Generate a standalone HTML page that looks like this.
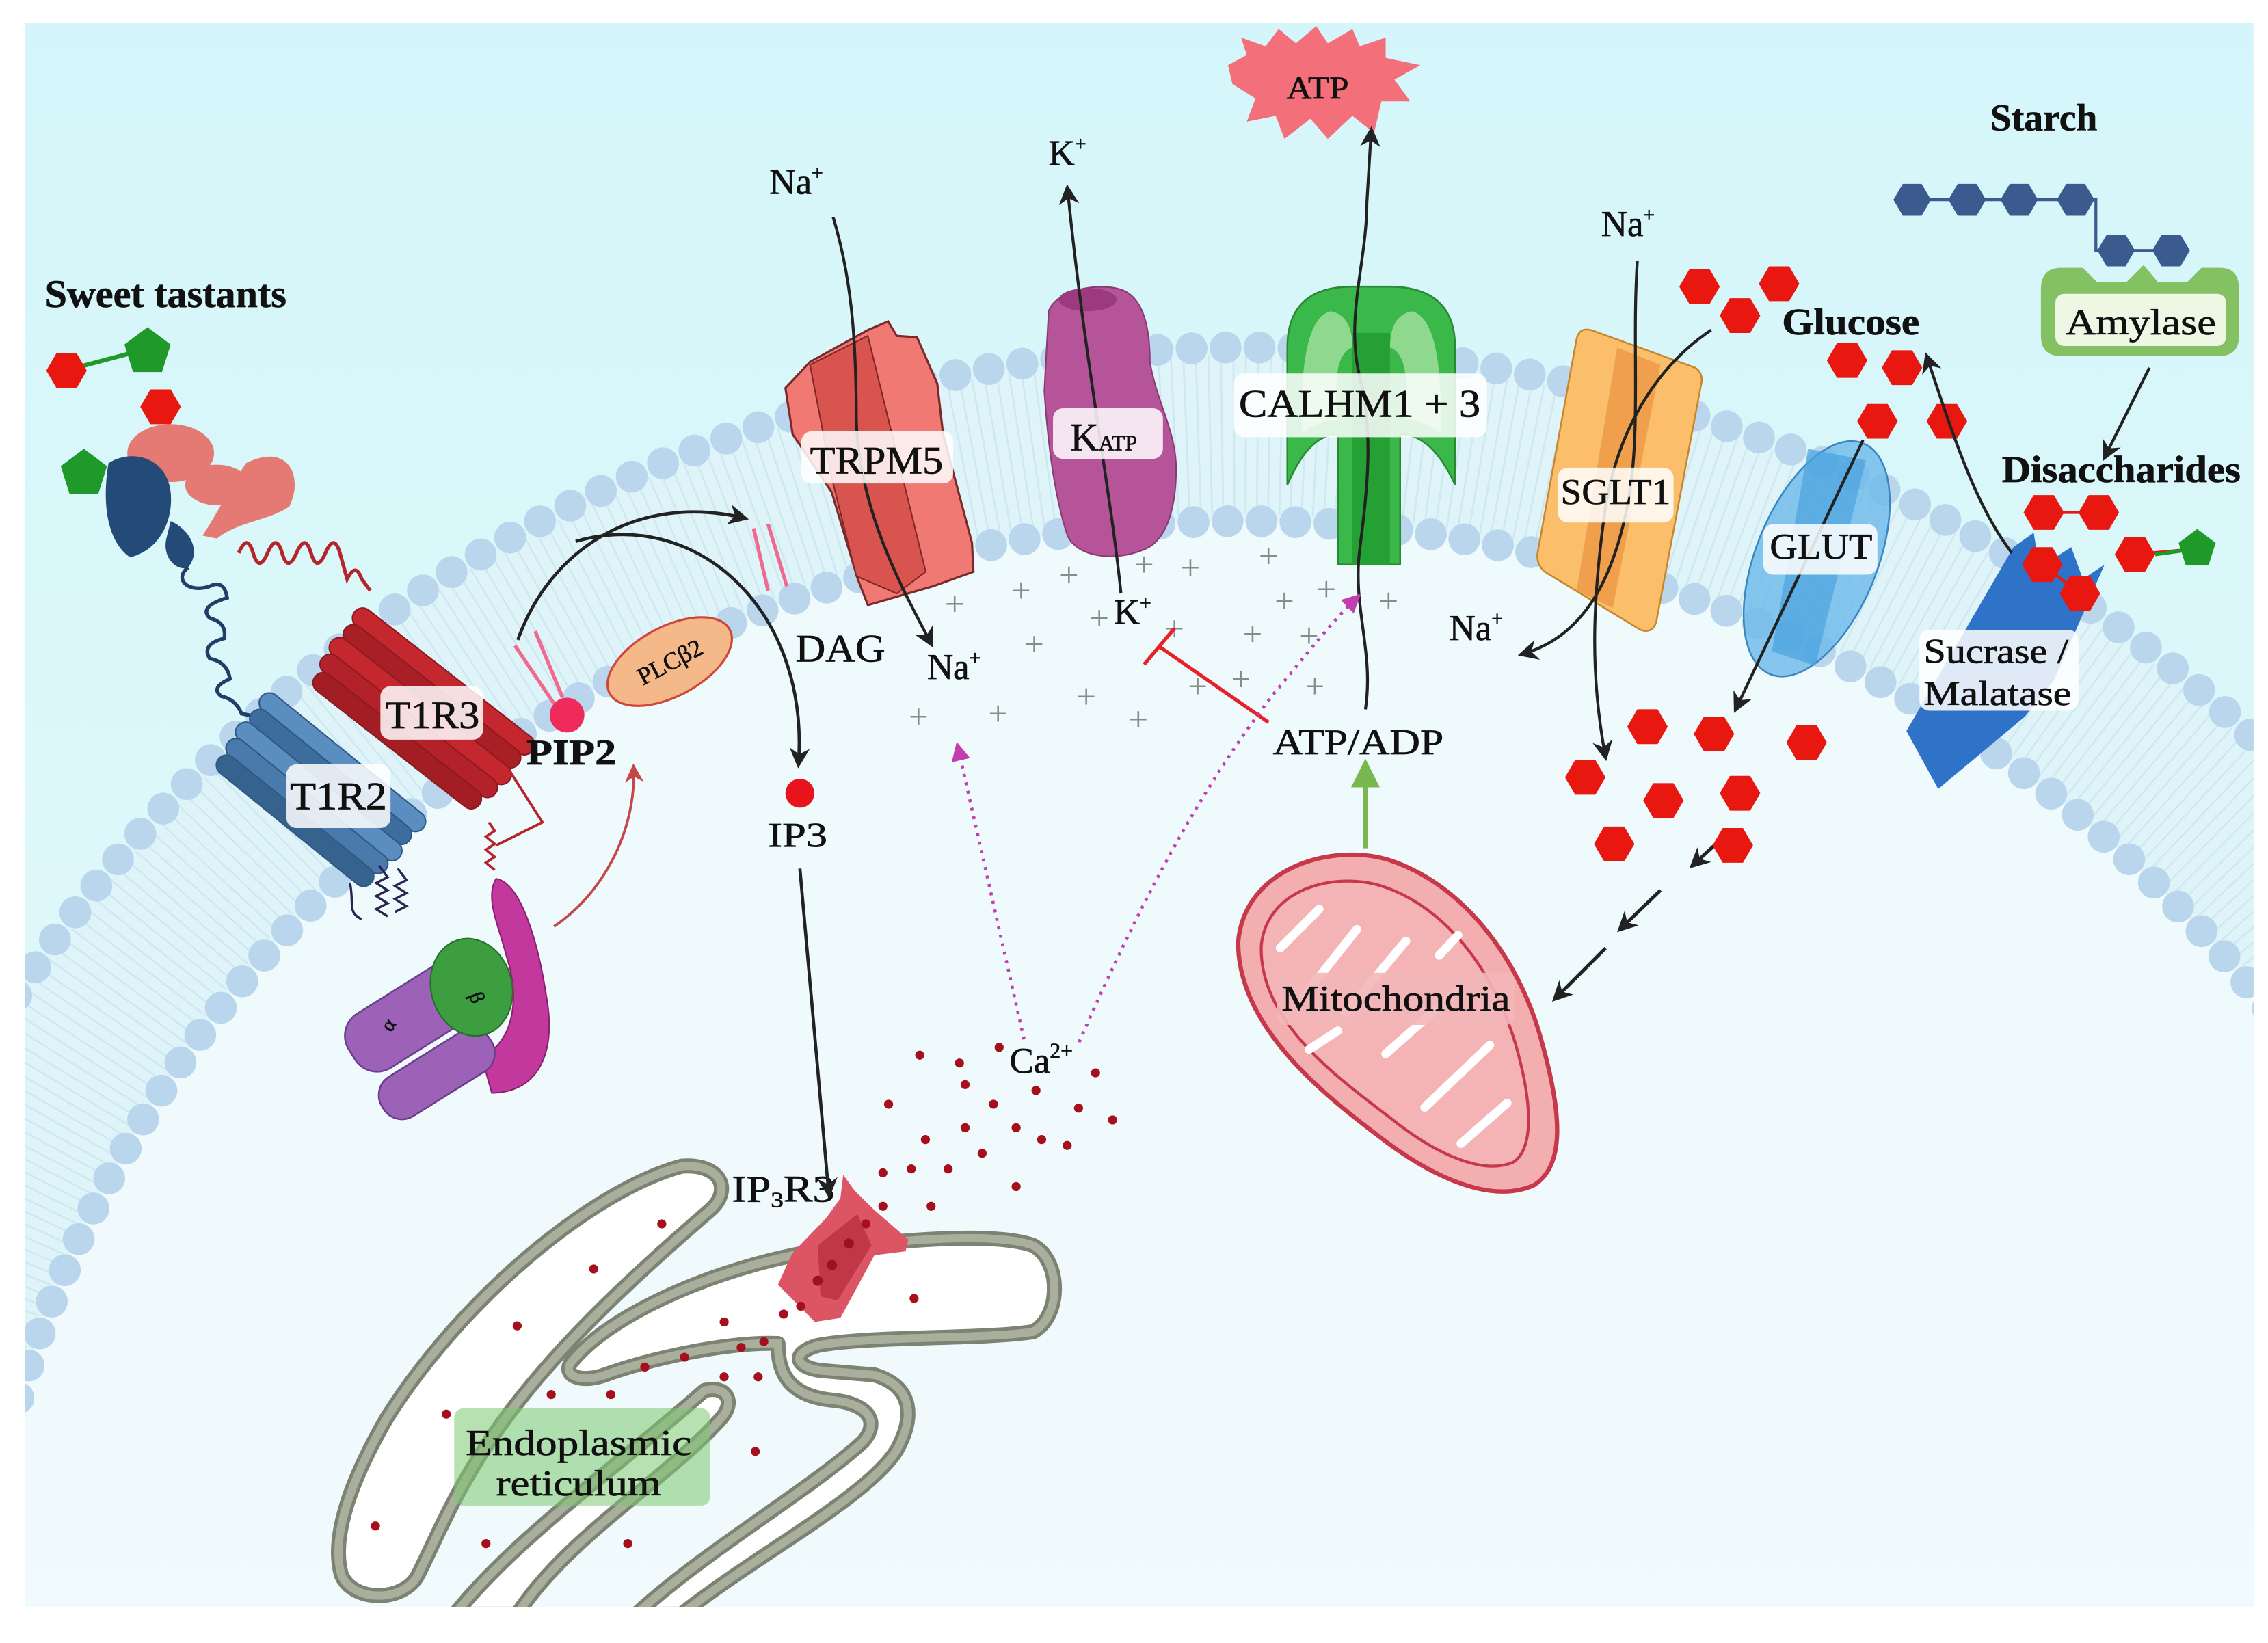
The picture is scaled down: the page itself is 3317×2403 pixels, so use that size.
<!DOCTYPE html>
<html><head><meta charset="utf-8"><style>
html,body{margin:0;padding:0;background:#fff;overflow:hidden;width:3317px;height:2403px;}
svg{display:block;}
text{font-family:"Liberation Serif",serif;fill:#111;stroke:#111;stroke-width:0.35;}
</style></head><body>
<svg width="3317" height="2403" viewBox="0 0 1568 1135" preserveAspectRatio="none" xmlns="http://www.w3.org/2000/svg">
<defs>
<clipPath id="cp"><rect x="17" y="16" width="1541" height="1094"/></clipPath>
<linearGradient id="bg" x1="0" y1="0" x2="0" y2="1"><stop offset="0" stop-color="#d4f6fa"/><stop offset="1" stop-color="#e6f9fb"/></linearGradient>
<linearGradient id="in" x1="0" y1="0" x2="0" y2="1"><stop offset="0" stop-color="#eefafc"/><stop offset="1" stop-color="#f4fbfd"/></linearGradient>
<marker id="ah" viewBox="0 0 10 10" refX="8" refY="5" markerWidth="14" markerHeight="14" markerUnits="userSpaceOnUse" orient="auto"><path d="M0,0 L10,5 L0,10 L3,5 Z" fill="#222"/></marker>
<marker id="ahm" viewBox="0 0 10 10" refX="8" refY="5" markerWidth="13" markerHeight="13" markerUnits="userSpaceOnUse" orient="auto"><path d="M0,0 L10,5 L0,10 Z" fill="#c13db0"/></marker>
<marker id="ahr" viewBox="0 0 10 10" refX="8" refY="5" markerWidth="13" markerHeight="13" markerUnits="userSpaceOnUse" orient="auto"><path d="M0,0 L10,5 L0,10 L3,5 Z" fill="#c4474a"/></marker>
<marker id="ahg" viewBox="0 0 10 10" refX="8" refY="5" markerWidth="20" markerHeight="20" markerUnits="userSpaceOnUse" orient="auto"><path d="M0,0 L10,5 L0,10 Z" fill="#79b84e"/></marker>
<polygon id="hx" points="-14,0 -7,-12 7,-12 14,0 7,12 -7,12" fill="#e8170f"/>
<polygon id="hb" points="-13,0 -6.5,-11 6.5,-11 13,0 6.5,11 -6.5,11" fill="#3b5b8f"/>
<polygon id="pt" points="0,-17 16,-5 10,14 -10,14 -16,-5" fill="#1f9a2a"/>
</defs>
<rect width="1568" height="1135" fill="#fff"/>
<g clip-path="url(#cp)">
<rect x="0" y="0" width="1568" height="1135" fill="url(#bg)"/>
<!-- membrane -->
<ellipse cx="860" cy="1190" rx="1000" ry="950" fill="#dff4f8"/>
<ellipse cx="860" cy="1190" rx="940" ry="890" fill="none" stroke="#c9e4ee" stroke-width="110" stroke-dasharray="1.2 7" opacity="0.8"/>
<ellipse cx="860" cy="1190" rx="880" ry="830" fill="url(#in)"/>
<ellipse cx="860" cy="1190" rx="1000" ry="950" fill="none" stroke="#b9d6ec" stroke-width="22" stroke-linecap="round" stroke-dasharray="0 23.5"/>
<ellipse cx="860" cy="1190" rx="880" ry="830" fill="none" stroke="#b9d6ec" stroke-width="22" stroke-linecap="round" stroke-dasharray="0 23.5"/>

<!-- ER -->
<g transform="translate(189,708.6) scale(0.392,0.271)">
<g fill="#fff" stroke="#7d8373" stroke-width="22" stroke-linejoin="round">
<path vector-effect="non-scaling-stroke" d="M720,358 C 560,420 330,700 200,1000 C 140,1150 100,1300 120,1400 C 140,1470 230,1470 255,1400 C 290,1300 330,1150 420,980 C 520,790 650,620 770,470 C 810,420 790,350 720,358 Z"/>
<path vector-effect="non-scaling-stroke" d="M760,930 C 800,915 815,960 790,1000 C 700,1150 520,1300 430,1500 L 320,1500 C 430,1300 620,1110 760,930 Z"/>
<path vector-effect="non-scaling-stroke" d="M530,850 C 600,730 800,600 1000,565 C 1150,540 1280,530 1340,560 C 1390,600 1390,740 1340,780 C 1250,800 1050,790 960,815 C 910,835 920,875 975,880 L 1060,890 C 1130,920 1130,1000 1100,1080 C 1050,1200 850,1350 720,1500 L 640,1500 C 760,1340 950,1180 1040,1060 C 1070,1010 1050,965 990,955 C 900,945 890,870 890,810 C 800,805 660,850 585,890 C 535,915 505,885 530,850 Z"/>
</g>
<g fill="none" stroke="#a9ae9d" stroke-width="12">
<path vector-effect="non-scaling-stroke" d="M720,358 C 560,420 330,700 200,1000 C 140,1150 100,1300 120,1400 C 140,1470 230,1470 255,1400 C 290,1300 330,1150 420,980 C 520,790 650,620 770,470 C 810,420 790,350 720,358 Z"/>
<path vector-effect="non-scaling-stroke" d="M760,930 C 800,915 815,960 790,1000 C 700,1150 520,1300 430,1500 L 320,1500 C 430,1300 620,1110 760,930 Z"/>
<path vector-effect="non-scaling-stroke" d="M530,850 C 600,730 800,600 1000,565 C 1150,540 1280,530 1340,560 C 1390,600 1390,740 1340,780 C 1250,800 1050,790 960,815 C 910,835 920,875 975,880 L 1060,890 C 1130,920 1130,1000 1100,1080 C 1050,1200 850,1350 720,1500 L 640,1500 C 760,1340 950,1180 1040,1060 C 1070,1010 1050,965 990,955 C 900,945 890,870 890,810 C 800,805 660,850 585,890 C 535,915 505,885 530,850 Z"/>
</g>
<polygon points="1005,380 1025,420 1060,470 1120,545 1115,575 1060,585 1000,745 955,755 890,660 915,580 975,490 1000,440" fill="#dc5564"/>
<polygon points="960,560 1030,480 1055,560 995,700 965,690" fill="#c23747"/>
<g fill="#a0101e">
<ellipse cx="1015" cy="555" rx="9" ry="13"/><ellipse cx="985" cy="610" rx="9" ry="13"/><ellipse cx="960" cy="650" rx="9" ry="13"/>
</g>
<g fill="#a5101c">
<ellipse cx="1140" cy="75" rx="8" ry="11.5"/><ellipse cx="1210" cy="95" rx="8" ry="11.5"/><ellipse cx="1280" cy="55" rx="8" ry="11.5"/><ellipse cx="1450" cy="120" rx="8" ry="11.5"/>
<ellipse cx="1085" cy="200" rx="8" ry="11.5"/><ellipse cx="1220" cy="150" rx="8" ry="11.5"/><ellipse cx="1345" cy="165" rx="8" ry="11.5"/><ellipse cx="1270" cy="200" rx="8" ry="11.5"/>
<ellipse cx="1420" cy="210" rx="8" ry="11.5"/><ellipse cx="1480" cy="240" rx="8" ry="11.5"/><ellipse cx="1220" cy="260" rx="8" ry="11.5"/><ellipse cx="1310" cy="260" rx="8" ry="11.5"/>
<ellipse cx="1150" cy="290" rx="8" ry="11.5"/><ellipse cx="1355" cy="290" rx="8" ry="11.5"/><ellipse cx="1250" cy="325" rx="8" ry="11.5"/><ellipse cx="1400" cy="305" rx="8" ry="11.5"/>
<ellipse cx="1075" cy="375" rx="8" ry="11.5"/><ellipse cx="1125" cy="365" rx="8" ry="11.5"/><ellipse cx="1190" cy="365" rx="8" ry="11.5"/><ellipse cx="1310" cy="410" rx="8" ry="11.5"/>
<ellipse cx="1075" cy="460" rx="8" ry="11.5"/><ellipse cx="1160" cy="460" rx="8" ry="11.5"/><ellipse cx="1045" cy="505" rx="8" ry="11.5"/><ellipse cx="685" cy="505" rx="8" ry="11.5"/>
<ellipse cx="565" cy="620" rx="8" ry="11.5"/><ellipse cx="1130" cy="695" rx="8" ry="11.5"/><ellipse cx="430" cy="765" rx="8" ry="11.5"/><ellipse cx="795" cy="755" rx="8" ry="11.5"/>
<ellipse cx="900" cy="735" rx="8" ry="11.5"/><ellipse cx="930" cy="715" rx="8" ry="11.5"/><ellipse cx="825" cy="820" rx="8" ry="11.5"/><ellipse cx="865" cy="805" rx="8" ry="11.5"/>
<ellipse cx="725" cy="845" rx="8" ry="11.5"/><ellipse cx="655" cy="870" rx="8" ry="11.5"/><ellipse cx="795" cy="895" rx="8" ry="11.5"/><ellipse cx="855" cy="895" rx="8" ry="11.5"/>
<ellipse cx="490" cy="940" rx="8" ry="11.5"/><ellipse cx="595" cy="940" rx="8" ry="11.5"/><ellipse cx="305" cy="990" rx="8" ry="11.5"/><ellipse cx="850" cy="1085" rx="8" ry="11.5"/>
<ellipse cx="180" cy="1275" rx="8" ry="11.5"/><ellipse cx="375" cy="1320" rx="8" ry="11.5"/><ellipse cx="625" cy="1320" rx="8" ry="11.5"/>
</g>
</g>
<rect x="314" y="973" width="177" height="67" rx="6" fill="#7cc870" opacity="0.55"/>
<text x="400" y="1005" font-size="25" text-anchor="middle" textLength="156" lengthAdjust="spacingAndGlyphs">Endoplasmic</text>
<text x="400" y="1033" font-size="25" text-anchor="middle" textLength="114" lengthAdjust="spacingAndGlyphs">reticulum</text>
<text x="506" y="830" font-size="26" textLength="71" lengthAdjust="spacingAndGlyphs">IP<tspan font-size="15" dy="4">3</tspan><tspan dy="-4">R3</tspan></text>
<text x="698" y="741" font-size="25">Ca<tspan font-size="15" dy="-10">2+</tspan></text>

<!-- sweet tastants / receptor -->
<text x="31" y="212" font-size="27" font-weight="bold" textLength="167" lengthAdjust="spacingAndGlyphs">Sweet tastants</text>
<line x1="45" y1="256" x2="98" y2="242" stroke="#1f9a2a" stroke-width="3"/>
<use href="#hx" x="46" y="256"/>
<use href="#pt" x="102" y="243"/>
<path d="M140,370 C150,355 160,335 170,320 C 200,305 210,330 200,350 C 185,360 165,360 150,372 Z" fill="#e47a73"/>
<ellipse cx="118" cy="313" rx="30" ry="20" fill="#e47a73"/>
<ellipse cx="150" cy="335" rx="22" ry="14" fill="#e47a73"/>
<use href="#hx" x="111" y="281"/>
<path d="M75,320 C 90,310 115,315 118,340 C 120,360 110,380 90,385 C 75,375 70,350 75,320 Z" fill="#244b78"/>
<path d="M118,360 C 130,365 140,380 130,392 C 122,395 112,385 115,372 Z" fill="#244b78"/>
<use href="#pt" x="58" y="327"/>
<path d="M165,382 q6,-14 10,0 q4,14 10,0 q6,-14 10,0 q4,14 10,0 q6,-14 10,0 q4,14 10,0 q6,-14 10,0 l5,18 q6,-12 10,0 l6,8" fill="none" stroke="#b5262c" stroke-width="2.5"/>
<path d="M130,392 C 120,400 130,410 145,405 q 10,-5 12,8 q-20,6 -12,14 q 12,3 10,14 q-16,4 -10,14 q12,2 14,14 q-14,6 -6,12 q10,2 14,12 l 20,4" fill="none" stroke="#1f3e68" stroke-width="2.5"/>
<g transform="translate(221,546) rotate(39)">
<rect x="-72" y="-32" width="144" height="14" rx="7" fill="#5b8ec0" stroke="#2f5886" stroke-width="1"/>
<rect x="-70" y="-19" width="140" height="14" rx="7" fill="#3d6d9c" stroke="#2f5886" stroke-width="1"/>
<rect x="-72" y="-6" width="144" height="14" rx="7" fill="#5b8ec0" stroke="#2f5886" stroke-width="1"/>
<rect x="-70" y="7" width="140" height="14" rx="7" fill="#4a7aab" stroke="#2f5886" stroke-width="1"/>
<rect x="-68" y="20" width="136" height="14" rx="7" fill="#36628e" stroke="#2f5886" stroke-width="1"/>
</g>
<g transform="translate(290,492) rotate(38)">
<rect x="-78" y="-34" width="156" height="14" rx="7" fill="#c5272f" stroke="#8c1a20" stroke-width="1"/>
<rect x="-76" y="-21" width="152" height="14" rx="7" fill="#a91f26" stroke="#8c1a20" stroke-width="1"/>
<rect x="-78" y="-8" width="156" height="14" rx="7" fill="#c5272f" stroke="#8c1a20" stroke-width="1"/>
<rect x="-76" y="5" width="152" height="14" rx="7" fill="#b3222a" stroke="#8c1a20" stroke-width="1"/>
<rect x="-72" y="18" width="144" height="14" rx="7" fill="#a31d24" stroke="#8c1a20" stroke-width="1"/>
</g>
<path d="M352,532 L 375,568 L 343,584 M 338,568 l 4,6 -6,4 6,5 -6,4 6,5 -6,4 6,5" fill="none" stroke="#b5262c" stroke-width="1.8"/>
<path d="M242,610 C 245,625 240,630 250,635 M 262,598 l 6,8 -8,4 8,5 -8,4 8,5 -8,4 8,5 M 275,600 l 6,8 -8,4 8,5 -8,4 8,5 -8,4" fill="none" stroke="#2a2450" stroke-width="1.6"/>
<rect x="198" y="528" width="72" height="44" rx="7" fill="#fff" opacity="0.85"/>
<text x="234" y="559" font-size="27" text-anchor="middle" textLength="67" lengthAdjust="spacingAndGlyphs">T1R2</text>
<rect x="263" y="474" width="71" height="37" rx="7" fill="#fff" opacity="0.85"/>
<text x="299" y="503" font-size="27" text-anchor="middle" textLength="65" lengthAdjust="spacingAndGlyphs">T1R3</text>
<!-- G protein -->
<path d="M343,607 C 360,610 372,650 378,690 C 385,730 370,755 340,755 L 333,730 C 355,720 360,690 350,660 C 345,640 335,620 343,607 Z" fill="#c2389c" stroke="#8a2070" stroke-width="1"/>
<g transform="translate(284,703) rotate(-32)"><rect x="-48" y="-22" width="96" height="44" rx="18" fill="#9b62b8" stroke="#6b3d8a" stroke-width="1.2"/></g>
<g transform="translate(302,742) rotate(-32)"><rect x="-44" y="-16" width="88" height="32" rx="15" fill="#9b62b8" stroke="#6b3d8a" stroke-width="1.2"/></g>
<ellipse cx="326" cy="682" rx="28" ry="34" transform="rotate(-15 326 682)" fill="#3c9e3f" stroke="#286e2a" stroke-width="1"/>
<text x="328" y="690" font-size="14" fill="#205a22" transform="rotate(70 328 686)">β</text>
<text x="268" y="715" font-size="14" fill="#5a3175" transform="rotate(-60 268 712)">α</text>
<path d="M383,640 C 420,615 440,570 438,530" fill="none" stroke="#c4474a" stroke-width="1.8" marker-end="url(#ahr)"/>
<!-- PIP2 / PLC / DAG -->
<path d="M356,446 L383,486 M370,436 L389,482" stroke="#ef6a8e" stroke-width="2.5"/>
<circle cx="392" cy="494" r="12" fill="#ee2b5a"/>
<text x="364" y="528" font-size="25" font-weight="bold" textLength="62" lengthAdjust="spacingAndGlyphs">PIP2</text>
<ellipse cx="463" cy="457" rx="47" ry="24" transform="rotate(-28 463 457)" fill="#f5b888" stroke="#d0453a" stroke-width="1.5"/>
<text x="463" y="463" font-size="17" text-anchor="middle" transform="rotate(-28 463 457)">PLCβ2</text>
<path d="M358,442 C 380,380 440,340 515,358" fill="none" stroke="#222" stroke-width="2.2" marker-end="url(#ah)"/>
<path d="M398,374 C 480,350 560,420 552,528" fill="none" stroke="#222" stroke-width="2.2" marker-end="url(#ah)"/>
<path d="M521,365 L531,408 M531,362 L544,405" stroke="#ef6a8e" stroke-width="2.5"/>
<text x="550" y="457" font-size="27" textLength="62" lengthAdjust="spacingAndGlyphs">DAG</text>
<circle cx="553" cy="548" r="10" fill="#e8141c"/>
<text x="531" y="585" font-size="24" textLength="41" lengthAdjust="spacingAndGlyphs">IP3</text>
<path d="M553,600 L573,825" stroke="#222" stroke-width="2.2" marker-end="url(#ah)"/>

<!-- plus signs -->
<g font-size="24" text-anchor="middle">
<text style="fill:#8a8a8a;stroke:none" x="660" y="425">+</text><text style="fill:#8a8a8a;stroke:none" x="706" y="416">+</text><text style="fill:#8a8a8a;stroke:none" x="739" y="405">+</text><text style="fill:#8a8a8a;stroke:none" x="791" y="398">+</text><text style="fill:#8a8a8a;stroke:none" x="823" y="400">+</text><text style="fill:#8a8a8a;stroke:none" x="877" y="392">+</text>
<text style="fill:#8a8a8a;stroke:none" x="760" y="435">+</text><text style="fill:#8a8a8a;stroke:none" x="812" y="442">+</text><text style="fill:#8a8a8a;stroke:none" x="715" y="453">+</text><text style="fill:#8a8a8a;stroke:none" x="866" y="446">+</text><text style="fill:#8a8a8a;stroke:none" x="828" y="482">+</text>
<text style="fill:#8a8a8a;stroke:none" x="858" y="477">+</text><text style="fill:#8a8a8a;stroke:none" x="751" y="489">+</text><text style="fill:#8a8a8a;stroke:none" x="635" y="503">+</text><text style="fill:#8a8a8a;stroke:none" x="690" y="501">+</text><text style="fill:#8a8a8a;stroke:none" x="787" y="505">+</text><text style="fill:#8a8a8a;stroke:none" x="888" y="423">+</text>
<text style="fill:#8a8a8a;stroke:none" x="917" y="415">+</text><text style="fill:#8a8a8a;stroke:none" x="960" y="423">+</text><text style="fill:#8a8a8a;stroke:none" x="905" y="447">+</text><text style="fill:#8a8a8a;stroke:none" x="909" y="482">+</text>
</g>

<!-- TRPM5 -->
<polygon points="543,268 560,250 600,228 614,222 620,232 634,233 648,265 652,300 672,375 673,395 645,405 600,418 593,400 575,340 548,300" fill="#f07a73" stroke="#7a2a2a" stroke-width="1.5"/>
<polygon points="560,252 600,232 640,395 620,410 592,398 575,330" fill="#d9534f" stroke="#7a2a2a" stroke-width="1"/>
<path d="M576,150 C 588,190 592,230 592,290 C 594,350 620,400 644,445" fill="none" stroke="#222" stroke-width="2" marker-end="url(#ah)"/>
<rect x="554" y="298" width="105" height="36" rx="7" fill="#fff" opacity="0.85"/>
<text x="606" y="327" font-size="27" text-anchor="middle" textLength="92" lengthAdjust="spacingAndGlyphs">TRPM5</text>
<text x="532" y="134" font-size="25">Na<tspan font-size="14" dy="-10">+</tspan></text>
<text x="641" y="469" font-size="25">Na<tspan font-size="14" dy="-10">+</tspan></text>
<!-- KATP -->
<path d="M725,215 C 730,200 760,195 775,200 C 790,205 795,225 795,250 C 800,280 815,300 813,330 C 812,355 805,375 790,380 C 770,388 745,385 738,370 C 728,340 724,300 722,270 Z" fill="#b6549a" stroke="#8a3a72" stroke-width="1"/>
<ellipse cx="752" cy="207" rx="20" ry="8" fill="#9c3a80"/>
<path d="M775,410 C 768,340 750,250 738,130" fill="none" stroke="#222" stroke-width="2" marker-end="url(#ah)"/>
<rect x="728" y="282" width="76" height="35" rx="7" fill="#fff" opacity="0.85"/>
<text x="740" y="311" font-size="27">K<tspan font-size="15">ATP</tspan></text>
<text x="725" y="114" font-size="25">K<tspan font-size="14" dy="-10">+</tspan></text>
<text x="770" y="431" font-size="25">K<tspan font-size="14" dy="-10">+</tspan></text>
<path d="M877,499 L802,447" stroke="#e8202a" stroke-width="2.5"/>
<path d="M791,459 L812,434" stroke="#e8202a" stroke-width="2.5"/>
<!-- ATP star / CALHM -->
<polygon points="849,45 862,38 858,26 875,32 884,20 896,30 910,18 918,30 935,20 940,32 958,26 958,40 982,45 964,55 975,70 955,70 950,92 935,80 918,96 906,82 888,96 882,80 862,84 868,68 852,58" fill="#f36f7a"/>
<text x="911" y="68" font-size="22" text-anchor="middle" textLength="43" lengthAdjust="spacingAndGlyphs">ATP</text>
<path d="M890,335 L890,240 Q890,198 935,198 L960,198 Q1006,198 1006,240 L1006,335 Q990,300 968,300 L968,390 L925,390 L925,300 Q905,300 890,335 Z" fill="#3bb84a" stroke="#2a8a34" stroke-width="1.2"/>
<path d="M900,300 Q898,220 920,215 Q935,218 935,240 Q920,245 925,290 Q910,290 900,300 Z" fill="#8ed98e"/>
<path d="M996,300 Q998,220 976,215 Q961,218 961,240 Q976,245 971,290 Q986,290 996,300 Z" fill="#8ed98e"/>
<rect x="935" y="230" width="26" height="160" fill="#24a035"/>
<path d="M944,490 C 950,450 935,420 940,380 C 945,340 950,300 940,260 C 930,220 945,180 945,140 L948,90" fill="none" stroke="#222" stroke-width="2" marker-end="url(#ah)"/>
<rect x="853" y="258" width="175" height="44" rx="7" fill="#fff" opacity="0.85"/>
<text x="940" y="288" font-size="27" text-anchor="middle" textLength="167" lengthAdjust="spacingAndGlyphs">CALHM1 + 3</text>
<text x="880" y="521" font-size="25" textLength="118" lengthAdjust="spacingAndGlyphs">ATP/ADP</text>
<path d="M944,586 L944,528" stroke="#79b84e" stroke-width="3" marker-end="url(#ahg)"/>
<path d="M708,718 L662,515" fill="none" stroke="#c13db0" stroke-width="2.2" stroke-dasharray="2 4" marker-end="url(#ahm)"/>
<path d="M746,720 C 790,620 830,545 880,480 C 905,450 922,428 939,412" fill="none" stroke="#c13db0" stroke-width="2.2" stroke-dasharray="2 4" marker-end="url(#ahm)"/>
<!-- Mitochondria -->
<path d="M856,651 C 860,600 920,582 960,594 C 1010,610 1050,660 1066,720 C 1080,770 1082,806 1060,819 C 1030,832 990,812 960,790 C 920,760 856,712 856,651 Z" fill="#f3aeb0" stroke="#c7394a" stroke-width="3"/>
<path d="M872,653 C 876,614 922,602 955,612 C 998,626 1032,668 1048,722 C 1060,764 1060,794 1046,803 C 1024,812 992,796 966,776 C 930,748 870,708 872,653 Z" fill="#f4b4b6" stroke="#c7394a" stroke-width="2"/>
<g stroke="#fff" stroke-width="6" stroke-linecap="round" fill="none">
<path d="M885,655 L912,628"/><path d="M900,690 L938,642"/><path d="M930,700 L972,650"/><path d="M958,728 L1008,684"/>
<path d="M985,765 L1030,722"/><path d="M1010,790 L1042,762"/><path d="M995,660 L1008,646"/><path d="M905,725 L925,712"/>
</g>
<rect x="883" y="672" width="164" height="36" rx="6" fill="#f3b6b8" opacity="0.9"/>
<text x="965" y="698" font-size="25" text-anchor="middle" textLength="158" lengthAdjust="spacingAndGlyphs">Mitochondria</text>
<path d="M1195,575 L1170,598" stroke="#222" stroke-width="2.4" marker-end="url(#ah)"/>
<path d="M1148,615 L1120,642" stroke="#222" stroke-width="2.4" marker-end="url(#ah)"/>
<path d="M1110,655 L1075,690" stroke="#222" stroke-width="2.4" marker-end="url(#ah)"/>
<!-- SGLT1 -->
<path d="M1100,228 L1172,254 Q1178,258 1176,266 L1145,430 Q1142,438 1134,435 L1068,395 Q1062,390 1063,382 L1090,234 Q1092,226 1100,228 Z" fill="#fbbf6c" stroke="#c7852c" stroke-width="1.2"/>
<polygon points="1118,240 1148,252 1115,420 1090,408" fill="#f0a04d"/>
<path d="M1132,180 C 1128,240 1135,300 1125,350 C 1115,400 1095,440 1052,452" fill="none" stroke="#222" stroke-width="2" marker-end="url(#ah)"/>
<path d="M1183,228 C 1150,250 1120,290 1110,350 C 1100,420 1100,470 1110,523" fill="none" stroke="#222" stroke-width="2" marker-end="url(#ah)"/>
<rect x="1077" y="323" width="80" height="38" rx="7" fill="#fff" opacity="0.85"/>
<text x="1117" y="348" font-size="25" text-anchor="middle" textLength="76" lengthAdjust="spacingAndGlyphs">SGLT1</text>
<text x="1107" y="163" font-size="25">Na<tspan font-size="14" dy="-10">+</tspan></text>
<text x="1002" y="442" font-size="25">Na<tspan font-size="14" dy="-10">+</tspan></text>
<use href="#hx" x="1175" y="198"/><use href="#hx" x="1203" y="218"/><use href="#hx" x="1230" y="196"/>
<use href="#hx" x="1277" y="249"/><use href="#hx" x="1315" y="254"/><use href="#hx" x="1298" y="291"/><use href="#hx" x="1346" y="291"/>
<use href="#hx" x="1139" y="502"/><use href="#hx" x="1185" y="507"/><use href="#hx" x="1249" y="513"/><use href="#hx" x="1096" y="537"/>
<use href="#hx" x="1150" y="553"/><use href="#hx" x="1203" y="548"/><use href="#hx" x="1116" y="583"/><use href="#hx" x="1198" y="584"/>
<text x="1232" y="231" font-size="26" font-weight="bold" textLength="95" lengthAdjust="spacingAndGlyphs">Glucose</text>
<!-- GLUT -->
<ellipse cx="1256" cy="386" rx="42" ry="86" transform="rotate(22 1256 386)" fill="#6cb9ea" fill-opacity="0.8" stroke="#3a86c0" stroke-width="1.2"/>
<path d="M1250,310 L1290,318 L1255,460 L1225,450 Z" fill="#4aa3de" opacity="0.7"/>
<path d="M1288,304 L1200,490" stroke="#222" stroke-width="2" marker-end="url(#ah)"/>
<rect x="1219" y="362" width="79" height="35" rx="7" fill="#fff" opacity="0.85"/>
<text x="1259" y="386" font-size="25" text-anchor="middle" textLength="71" lengthAdjust="spacingAndGlyphs">GLUT</text>
<!-- Starch / amylase -->
<text x="1376" y="90" font-size="26" font-weight="bold" textLength="74" lengthAdjust="spacingAndGlyphs">Starch</text>
<path d="M1322,138 L1449,138 L1449,173 L1501,173" fill="none" stroke="#3b5b8f" stroke-width="2"/>
<use href="#hb" x="1322" y="138"/><use href="#hb" x="1360" y="138"/><use href="#hb" x="1396" y="138"/><use href="#hb" x="1435" y="138"/>
<use href="#hb" x="1463" y="173"/><use href="#hb" x="1501" y="173"/>
<path d="M1411,200 Q1411,185 1425,185 L1440,185 L1450,195 L1470,195 L1482,183 L1492,195 L1512,195 L1522,185 L1535,185 Q1548,185 1548,200 L1548,232 Q1548,246 1534,246 L1425,246 Q1411,246 1411,232 Z" fill="#83c163"/>
<rect x="1421" y="203" width="118" height="36" rx="6" fill="#eef7e4"/>
<text x="1480" y="231" font-size="25" text-anchor="middle" textLength="104" lengthAdjust="spacingAndGlyphs">Amylase</text>
<path d="M1486,254 L1455,316" stroke="#222" stroke-width="2" marker-end="url(#ah)"/>
<text x="1384" y="333" font-size="26" font-weight="bold" textLength="165" lengthAdjust="spacingAndGlyphs">Disaccharides</text>
<!-- Sucrase -->
<polygon points="1318,505 1392,378 1406,368 1410,392 1432,378 1440,400 1455,390 1420,470 1400,495 1340,545" fill="#2f73c9"/>
<path d="M1391,382 C 1366,350 1350,300 1332,246" fill="none" stroke="#222" stroke-width="2" marker-end="url(#ah)"/>
<path d="M1413,354 L1451,354 M1412,390 L1438,410 M1476,383 L1519,379" stroke="#e8170f" stroke-width="2"/>
<line x1="1490" y1="383" x2="1519" y2="379" stroke="#1f9a2a" stroke-width="2.5"/>
<use href="#hx" x="1413" y="354"/><use href="#hx" x="1451" y="354"/><use href="#hx" x="1412" y="390"/><use href="#hx" x="1438" y="410"/><use href="#hx" x="1476" y="383"/>
<use href="#pt" x="1519" y="379" transform="translate(1519 379) scale(0.8) translate(-1519 -379)"/>
<rect x="1327" y="435" width="110" height="56" rx="7" fill="#fff" opacity="0.85"/>
<text x="1380" y="458" font-size="24" text-anchor="middle" textLength="100" lengthAdjust="spacingAndGlyphs">Sucrase /</text>
<text x="1381" y="487" font-size="24" text-anchor="middle" textLength="102" lengthAdjust="spacingAndGlyphs">Malatase</text>
</g>
</svg>
</body></html>
